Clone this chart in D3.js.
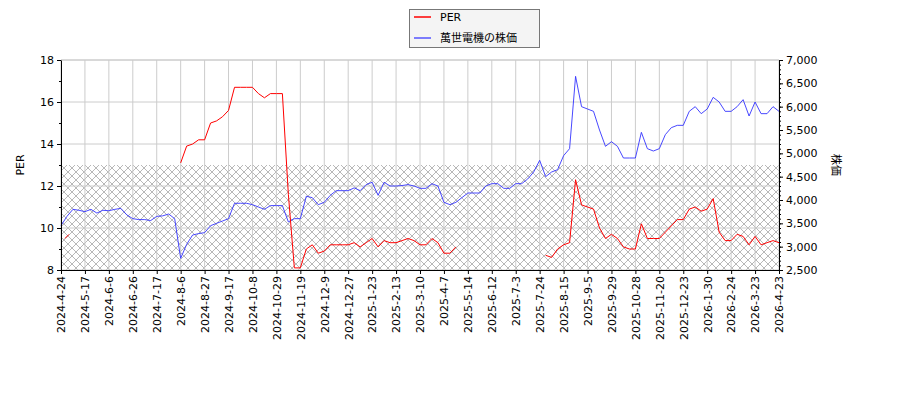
<!DOCTYPE html><html><head><meta charset="utf-8">
<script src="https://cdn.jsdelivr.net/npm/d3@7"></script>
<style>body{margin:0;background:#fff}text{font-family:"DejaVu Sans",sans-serif;font-size:11px}</style></head><body>
<svg id="c" width="900" height="400"></svg>
<script>
const tickLabels=["2024-4-24","2024-5-17","2024-6-6","2024-6-26","2024-7-17","2024-8-6","2024-8-27","2024-9-17","2024-10-8","2024-10-29","2024-11-19","2024-12-9","2024-12-27","2025-1-23","2025-2-13","2025-3-10","2025-4-7","2025-5-14","2025-6-12","2025-7-3","2025-7-24","2025-8-15","2025-9-5","2025-9-29","2025-10-28","2025-11-20","2025-12-23","2026-1-30","2026-2-24","2026-3-23","2026-4-23"];
const price=[3450,3650,3800,3780, 3750,3800,3720,3780, 3770,3800,3820,3680, 3600,3580,3580,3560, 3650,3660,3700,3600,
2750,3050,3250,3280, 3300,3450,3500,3550, 3600,3930,3930,3930, 3900,3850,3800,3880, 3880,3880,3530,3600,
3600,4080,4050,3900, 3950,4100,4200,4200, 4200,4260,4200,4330, 4380,4100,4380,4300, 4300,4310,4330,4300,
4250,4250,4350,4300, 3950,3900,3950,4050, 4150,4150,4150,4300, 4350,4350,4250,4250, 4350,4350,4450,4600,
4850,4500,4600,4650, 4950,5100,6650,6000, 5950,5900,5500,5150, 5250,5150,4900,4900, 4900,5450,5100,5050,
5100,5400,5550,5600, 5600,5900,6000,5850, 5950,6200,6100,5900, 5900,6000,6150,5800, 6100,5850,5850,6000, 5900];
const per=[null,9.6,null,null, null,null,null,null, null,null,null,null, null,null,null,null, null,null,null,null,
13.1,13.9,14.0,14.2, 14.2,15.0,15.1,15.3, 15.6,16.7,16.7,16.7, 16.7,16.4,16.2,16.4, 16.4,16.4,11.6,8.1,
8.1,9.0,9.2,8.8, 8.9,9.2,9.2,9.2, 9.2,9.3,9.1,9.3, 9.5,9.1,9.4,9.3, 9.3,9.4,9.5,9.4,
9.2,9.2,9.5,9.3, 8.8,8.8,9.1,null, null,null,null,null, null,null,null,null, null,null,null,null,
null,8.7,8.6,9.0, 9.2,9.3,12.3,11.1, 11.0,10.9,10.0,9.5, 9.7,9.5,9.1,9.0, 9.0,10.2,9.5,9.5,
9.5,9.8,10.1,10.4, 10.4,10.9,11.0,10.8, 10.9,11.4,9.8,9.4, 9.4,9.7,9.6,9.2, 9.6,9.2,9.3,9.4, 9.3];
const perTicks=[8,10,12,14,16,18], priceTicks=[2500,3000,3500,4000,4500,5000,5500,6000,6500,7000];
const L=61,R=779,T=60,B=270;
const svg=d3.select("#c");
const x=d3.scaleLinear().domain([0,tickLabels.length-1]).range([L,R]);
const yL=d3.scaleLinear().domain([8,18]).range([B,T]);
const yR=d3.scaleLinear().domain([2500,7000]).range([B,T]);
const defs=svg.append("defs");
const p=defs.append("pattern").attr("id","h").attr("width",8).attr("height",8).attr("patternUnits","userSpaceOnUse");
p.append("path").attr("d","M0,0L8,8M8,0L0,8").attr("stroke","#999").attr("stroke-width",0.7);
svg.append("rect").attr("x",L).attr("y",yL(13)).attr("width",R-L).attr("height",B-yL(13)).attr("fill","url(#h)");
const g=svg.append("g");
tickLabels.forEach((t,i)=>g.append("line").attr("x1",x(i)).attr("x2",x(i)).attr("y1",T).attr("y2",B).attr("stroke","#ccc"));
perTicks.forEach(v=>g.append("line").attr("x1",L).attr("x2",R).attr("y1",yL(v)).attr("y2",yL(v)).attr("stroke","#ccc"));
const idx=i=>i/4;
svg.append("path").datum(price).attr("fill","none").attr("stroke","#3333ff").attr("stroke-width",0.9)
 .attr("d",d3.line().x((d,i)=>x(idx(i))).y(d=>yR(d)));
svg.append("path").datum(per).attr("fill","none").attr("stroke","#ff0000").attr("stroke-width",1)
 .attr("d",d3.line().defined(d=>d!=null).x((d,i)=>x(idx(i))).y(d=>yL(d)));
// isolated PER point
per.forEach((d,i)=>{if(d!=null&&per[i-1]==null&&per[i+1]==null)svg.append("line").attr("x1",x(idx(i))-2).attr("x2",x(idx(i))+2).attr("y1",yL(d)+2).attr("y2",yL(d)-2).attr("stroke","red");});
svg.append("g").attr("transform",`translate(${L},0)`).call(d3.axisLeft(yL).tickValues(perTicks).tickSize(4).tickFormat(d3.format("d")))
 .call(a=>a.selectAll("text").style("font-size","11px").attr("fill","#000"));
svg.append("g").attr("transform",`translate(${L},0)`).call(d3.axisLeft(yL).ticks(10).tickSize(2).tickFormat(""));
svg.append("g").attr("transform",`translate(${R},0)`).call(d3.axisRight(yR).tickValues(priceTicks).tickSize(4))
 .call(a=>a.selectAll("text").style("font-size","11px"));
svg.append("g").attr("transform",`translate(${R},0)`).call(d3.axisRight(yR).ticks(45).tickSize(2).tickFormat(""));
const xa=svg.append("g").attr("transform",`translate(0,${B})`).call(d3.axisBottom(x).tickValues(d3.range(tickLabels.length)).tickSize(4).tickFormat(i=>tickLabels[i]));
xa.selectAll("text").attr("transform","rotate(-90)").attr("text-anchor","end").attr("x",-6).attr("y",0).attr("dy","0.35em").style("font-size","11px");
svg.append("line").attr("x1",L).attr("x2",R).attr("y1",T).attr("y2",T).attr("stroke","#ccc");
svg.append("text").attr("transform","translate(24,165) rotate(-90)").attr("text-anchor","middle").text("PER");
svg.append("text").attr("transform","translate(832,165) rotate(90)").attr("text-anchor","middle").style("font-family","'Noto Sans CJK JP',sans-serif").text("株価");
const lg=svg.append("g");
lg.append("rect").attr("x",409.5).attr("y",9.5).attr("width",130).attr("height",38).attr("fill","#f4f4f4").attr("stroke","#777");
lg.append("line").attr("x1",414).attr("x2",431).attr("y1",17).attr("y2",17).attr("stroke","red").attr("stroke-width",1.5);
lg.append("line").attr("x1",414).attr("x2",431).attr("y1",38).attr("y2",38).attr("stroke","#5555ff").attr("stroke-width",1.5);
lg.append("text").attr("x",440).attr("y",21).text("PER");
lg.append("text").attr("x",440).attr("y",42).style("font-family","'Noto Sans CJK JP',sans-serif").text("萬世電機の株価");
</script></body></html>
